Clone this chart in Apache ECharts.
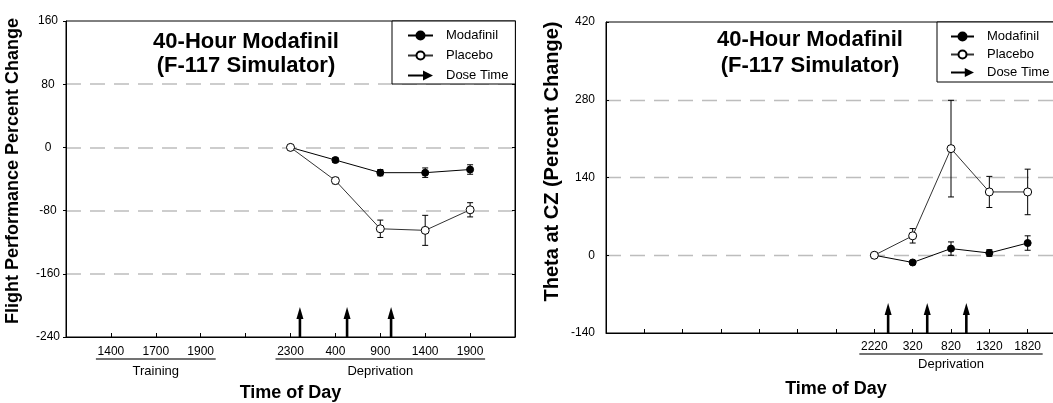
<!DOCTYPE html>
<html>
<head>
<meta charset="utf-8">
<script src="https://cdn.jsdelivr.net/npm/echarts@6/dist/echarts.min.js"></script>
<style>
html,body{margin:0;padding:0;background:#fff;}
#c{width:1053px;height:403px;}
</style>
</head>
<body>
<div id="c"></div>
<script>
// ---------- DATA ----------
// Left panel: flight performance (axis positions 0..10; labels by position)
const leftTickLabels = ['', '1400', '1700', '1900', '', '2300', '400', '900', '1400', '1900', ''];
const leftObsIndex = [5, 6, 7, 8, 9];
const leftModafinil = [0, -16, -32, -32, -28];
const leftModafinilErr = [0, 3, 4, 6, 6];
const leftPlacebo = [0, -42, -103, -105, -79];
const leftPlaceboErr = [0, 4, 11, 19, 9];
const leftDoseTimes = [5.21, 6.26, 7.24];
const leftDoseArrowTop = -202;
const leftYRange = [-240, 160, 80];
const leftGroups = [
  { label: 'Training', first: 1, last: 3 },
  { label: 'Deprivation', first: 5, last: 9 }
];

// Right panel: theta at CZ (axis positions 0..12)
const rightTickLabels = ['', '', '', '', '', '', '', '2220', '320', '820', '1320', '1820', ''];
const rightObsIndex = [7, 8, 9, 10, 11];
const rightModafinil = [0, -13, 12, 4, 22];
const rightModafinilErr = [0, 3, 12, 6, 13];
const rightPlacebo = [0, 35, 192, 114, 114];
const rightPlaceboErr = [0, 13, 87, 28, 41];
const rightDoseTimes = [7.36, 8.38, 9.4];
const rightDoseArrowTop = -86;
const rightYRange = [-140, 420, 140];
const rightGroups = [
  { label: 'Deprivation', first: 7, last: 11 }
];

const titleText = '40-Hour Modafinil\n(F-117 Simulator)';
const leftYName = 'Flight Performance Percent Change';
const rightYName = 'Theta at CZ (Percent Change)';
const xName = 'Time of Day';

// ---------- CHART ----------
const FONT = "'Liberation Sans', Arial, sans-serif";
const chart = echarts.init(document.getElementById('c'), null, { renderer: 'canvas' });

function pts(idx, vals) { return idx.map((x, i) => [x, vals[i]]); }
function errPts(idx, vals, errs) { return idx.map((x, i) => [x, vals[i], errs[i]]); }

function errorBarRender(params, api) {
  const x = api.value(0), y = api.value(1), e = api.value(2);
  if (!e) return null;
  const top = api.coord([x, y + e]);
  const bot = api.coord([x, y - e]);
  const cw = 3;
  const st = { stroke: '#000', lineWidth: 1 };
  return {
    type: 'group',
    children: [
      { type: 'line', shape: { x1: top[0], y1: top[1], x2: bot[0], y2: bot[1] }, style: st },
      { type: 'line', shape: { x1: top[0] - cw, y1: top[1], x2: top[0] + cw, y2: top[1] }, style: st },
      { type: 'line', shape: { x1: bot[0] - cw, y1: bot[1], x2: bot[0] + cw, y2: bot[1] }, style: st }
    ]
  };
}

function arrowRender(params, api) {
  const x = api.value(0);
  const b = api.coord([x, api.value(1)]);
  const t = api.coord([x, api.value(2)]);
  return {
    type: 'group',
    children: [
      { type: 'line', shape: { x1: b[0], y1: b[1], x2: t[0], y2: t[1] + 8 }, style: { stroke: '#000', lineWidth: 2.6 } },
      { type: 'polygon', shape: { points: [[t[0], t[1]], [t[0] - 3.5, t[1] + 12], [t[0] + 3.5, t[1] + 12]] }, style: { fill: '#000' } }
    ]
  };
}

const arrowIcon = 'path://M0,4 L15,4 L15,0 L25,5 L15,10 L15,6 L0,6 Z';

function xAxisCfg(gridIndex, max, labels, nameGap, labelMargin) {
  return {
    type: 'value', gridIndex, min: 0, max, interval: 1,
    name: xName, nameLocation: 'middle', nameGap,
    nameTextStyle: { fontFamily: FONT, fontSize: 18, fontWeight: 'bold', color: '#000' },
    axisLine: { show: true, onZero: false, lineStyle: { color: '#000', width: 1 } },
    axisTick: { show: true, inside: true, length: 4, lineStyle: { color: '#000' } },
    axisLabel: {
      margin: labelMargin, fontFamily: FONT, fontSize: 12, color: '#000',
      formatter: v => labels[Math.round(v)] || ''
    },
    splitLine: { show: false }
  };
}

function yAxisCfg(gridIndex, range, name, nameSize, namePad, labelAlign, labelMargin, tickInside, dashW) {
  return {
    type: 'value', gridIndex, min: range[0], max: range[1], interval: range[2],
    name, nameLocation: 'middle', nameGap: 44, nameRotate: 90,
    nameTextStyle: { fontFamily: FONT, fontSize: nameSize, fontWeight: 'bold', color: '#000', padding: [0, 0, 0, namePad] },
    axisLine: { show: true, onZero: false, lineStyle: { color: '#000', width: 1 } },
    axisTick: { show: true, inside: tickInside, length: 3, lineStyle: { color: '#000' } },
    axisLabel: { align: labelAlign, margin: labelMargin, fontFamily: FONT, fontSize: 12, color: '#000' },
    splitLine: {
      show: true, showMinLine: false, showMaxLine: false,
      lineStyle: { color: '#bdbdbd', width: dashW, type: [15, 9] }
    }
  };
}

function lineSeries(name, gi, data, filled) {
  return {
    name, type: 'line', xAxisIndex: gi, yAxisIndex: gi, data,
    symbol: 'circle', symbolSize: filled ? 7 : 8,
    lineStyle: { color: filled ? '#000' : '#333', width: 1 },
    itemStyle: filled ? { color: '#000', borderColor: '#000', borderWidth: 1 } : { color: '#fff', borderColor: '#000', borderWidth: 1 },
    emphasis: { disabled: true },
    z: filled ? 3 : 4,
    animation: false
  };
}

function errSeries(gi, data) {
  return {
    type: 'custom', xAxisIndex: gi, yAxisIndex: gi, data,
    renderItem: errorBarRender, z: 2, silent: true, animation: false,
    encode: { x: 0, y: 1 }
  };
}

function doseSeries(gi, times, ymin, top) {
  return {
    name: 'Dose Time', type: 'custom', xAxisIndex: gi, yAxisIndex: gi,
    data: times.map(t => [t, ymin, top]),
    renderItem: arrowRender, itemStyle: { color: '#000' }, z: 5, silent: true, animation: false,
    encode: { x: 0, y: [1, 2] }
  };
}

function legendCfg(left, top, pad, gap, iw, fs) {
  return {
    orient: 'vertical', left, top,
    data: ['Modafinil', 'Placebo', { name: 'Dose Time', icon: arrowIcon }],
    itemWidth: iw, itemHeight: 10, itemGap: gap,
    padding: pad, borderColor: '#000', borderWidth: 1, borderRadius: 0,
    backgroundColor: '#fff', selectedMode: false,
    textStyle: { fontFamily: FONT, fontSize: fs, color: '#000', padding: [0, 0, 0, 8] },
    z: 10
  };
}

const option = {
  backgroundColor: '#fff',
  animation: false,
  textStyle: { fontFamily: FONT },
  title: [
    { text: titleText, left: 246, top: 30, textAlign: 'center', padding: 0,
      textStyle: { fontFamily: FONT, fontSize: 22, fontWeight: 'bold', color: '#000', lineHeight: 24 } },
    { text: titleText, left: 810, top: 27, textAlign: 'center', padding: 0,
      textStyle: { fontFamily: FONT, fontSize: 22, fontWeight: 'bold', color: '#000', lineHeight: 26 } }
  ],
  legend: [
    legendCfg(392, 21, [8, 7, 2, 15], 7, 25, 13),
    legendCfg(937, 22, [8, 60, 3, 13], 5, 23, 13)
  ],
  grid: [
    { left: 66, top: 21, width: 449, height: 316, show: true, borderColor: '#000', borderWidth: 1,
      containLabel: false, outerBoundsMode: 'none' },
    { left: 606, top: 22, width: 460, height: 311, show: true, borderColor: '#000', borderWidth: 1,
      containLabel: false, outerBoundsMode: 'none' }
  ],
  xAxis: [
    xAxisCfg(0, leftTickLabels.length - 1, leftTickLabels, 47, 9),
    xAxisCfg(1, rightTickLabels.length - 1, rightTickLabels, 47, 8)
  ],
  yAxis: [
    yAxisCfg(0, leftYRange, leftYName, 18, 16, 'center', 18, false, 1.6),
    yAxisCfg(1, rightYRange, rightYName, 20, 32, 'right', 11, true, 1.3),
    {
      type: 'value', gridIndex: 0, position: 'right', min: leftYRange[0], max: leftYRange[1], interval: leftYRange[2],
      axisLine: { show: true, onZero: false, lineStyle: { color: '#000', width: 1 } },
      axisTick: { show: true, inside: true, length: 3, lineStyle: { color: '#000' } },
      axisLabel: { show: false }, splitLine: { show: false }
    }
  ],
  series: [
    errSeries(0, errPts(leftObsIndex, leftModafinil, leftModafinilErr)),
    errSeries(0, errPts(leftObsIndex, leftPlacebo, leftPlaceboErr)),
    lineSeries('Modafinil', 0, pts(leftObsIndex, leftModafinil), true),
    lineSeries('Placebo', 0, pts(leftObsIndex, leftPlacebo), false),
    doseSeries(0, leftDoseTimes, leftYRange[0], leftDoseArrowTop),
    errSeries(1, errPts(rightObsIndex, rightModafinil, rightModafinilErr)),
    errSeries(1, errPts(rightObsIndex, rightPlacebo, rightPlaceboErr)),
    lineSeries('Modafinil', 1, pts(rightObsIndex, rightModafinil), true),
    lineSeries('Placebo', 1, pts(rightObsIndex, rightPlacebo), false),
    doseSeries(1, rightDoseTimes, rightYRange[0], rightDoseArrowTop)
  ]
};
chart.setOption(option);

// Group underlines and labels below tick labels, positioned via the axes
function groupGraphics(gi, groups, yMin, lineOff, textOff) {
  const out = [];
  groups.forEach(g => {
    const a = chart.convertToPixel({ gridIndex: gi }, [g.first, yMin]);
    const b = chart.convertToPixel({ gridIndex: gi }, [g.last, yMin]);
    const ext = 15;
    out.push({
      type: 'line', silent: true,
      shape: { x1: a[0] - ext, y1: a[1] + lineOff, x2: b[0] + ext, y2: a[1] + lineOff },
      style: { stroke: '#444', lineWidth: 1.5 }
    });
    out.push({
      type: 'text', silent: true, x: (a[0] + b[0]) / 2, y: a[1] + textOff,
      style: { text: g.label, fontFamily: FONT, fontSize: 13, fill: '#000', align: 'center', verticalAlign: 'middle' }
    });
  });
  return out;
}
chart.setOption({
  graphic: [
    ...groupGraphics(0, leftGroups, leftYRange[0], 22, 34),
    ...groupGraphics(1, rightGroups, rightYRange[0], 21, 31)
  ]
});
</script>
</body>
</html>
